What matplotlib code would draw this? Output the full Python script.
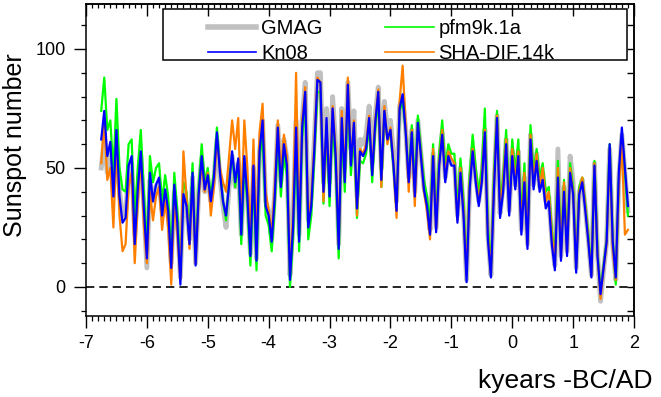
import numpy as np
import matplotlib
matplotlib.use("Agg")
import matplotlib.pyplot as plt
from matplotlib.patches import Rectangle
from matplotlib.ticker import MultipleLocator

plt.rcParams['font.family'] = ['Liberation Sans', 'DejaVu Sans']
plt.rcParams['axes.unicode_minus'] = False

# time axis, kyears BC/AD, one sample every 50 years
years = np.round(np.arange(-6.75, 1.90 + 0.001, 0.05), 2)

gmag = [
    50, 62, 48, 58, 40, 60, 40, 30, 30, 48,
    52, 22, 40, 55, 34, 8, 45, 36, 42, 44,
    32, 40, 32, 10, 40, 28, 4, 40, 34, 20,
    46, 10, 40, 54, 40, 46, 36, 45, 62, 46,
    34, 25, 42, 55, 42, 52, 22, 54, 38, 14,
    50, 12, 57, 70, 36, 32, 20, 40, 68, 44,
    62, 54, 5, 28, 70, 22, 70, 86, 28, 38,
    62, 90, 90, 44, 75, 44, 80, 60, 18, 75,
    50, 86, 58, 74, 38, 62, 60, 64, 76, 52,
    72, 84, 50, 78, 66, 70, 56, 36, 76, 80,
    66, 46, 66, 40, 70, 56, 42, 36, 24, 56,
    25, 52, 65, 46, 56, 52, 52, 30, 50, 32,
    3, 42, 58, 46, 36, 46, 66, 22, 5, 42,
    72, 31, 42, 62, 32, 57, 43, 57, 24, 46,
    18, 64, 43, 56, 42, 48, 36, 38, 20, 9,
    58, 13, 42, 15, 55, 44, 8, 40, 45, 33,
    20, 5, 52, 14, -6, 7, 19, 58, 18, 3,
    46, 64, 48, 32,
]

kn08 = [
    62, 74, 55, 61, 38, 66, 38, 27, 29, 51,
    55, 18, 41, 57, 33, 12, 48, 36, 43, 46,
    30, 41, 32, 8, 43, 27, 1, 39, 34, 18,
    48, 9, 39, 55, 41, 47, 36, 46, 65, 48,
    36, 30, 43, 57, 44, 54, 22, 55, 38, 13,
    51, 11, 57, 70, 34, 30, 19, 38, 67, 42,
    60, 51, 3, 25, 67, 19, 67, 82, 25, 34,
    58, 87, 86, 40, 71, 38, 75, 55, 16, 71,
    44, 85, 51, 69, 33, 57, 55, 58, 71, 47,
    69, 82, 45, 74, 62, 66, 51, 32, 75, 81,
    65, 44, 65, 38, 69, 55, 41, 34, 22, 55,
    23, 51, 64, 44, 55, 51, 51, 27, 48, 30,
    2, 41, 57, 44, 34, 44, 65, 20, 4, 41,
    71, 29, 40, 60, 30, 55, 41, 55, 22, 44,
    16, 62, 41, 53, 40, 45, 33, 36, 18, 7,
    46, 11, 40, 13, 48, 39, 6, 39, 44, 32,
    19, 4, 51, 13, -3, 8, 19, 60, 19, 4,
    48, 67, 50, 34,
]

pfm9k = [
    74, 88, 66, 70, 48, 79, 50, 41, 40, 60,
    62, 28, 50, 66, 40, 16, 55, 44, 50, 52,
    36, 47, 38, 12, 48, 32, 5, 44, 40, 22,
    52, 12, 42, 60, 44, 50, 38, 48, 67, 50,
    36, 28, 44, 56, 42, 52, 18, 52, 35, 9,
    47, 7, 54, 64, 30, 26, 15, 34, 62, 38,
    55, 47, 0, 20, 62, 15, 63, 78, 20, 30,
    54, 82, 82, 35, 66, 34, 70, 50, 12, 66,
    40, 80, 47, 64, 29, 53, 52, 56, 68, 44,
    66, 80, 42, 72, 62, 64, 50, 32, 74, 78,
    66, 46, 68, 42, 72, 58, 45, 38, 26, 60,
    28, 56, 70, 50, 60, 56, 56, 32, 54, 36,
    6, 47, 64, 50, 40, 50, 75, 26, 8, 48,
    74, 35, 46, 66, 36, 62, 48, 62, 28, 52,
    20, 68, 48, 58, 46, 52, 40, 42, 24, 12,
    53, 16, 45, 18, 52, 42, 10, 42, 46, 35,
    22, 6, 53, 15, -2, 9, 20, 60, 20, 1,
    45, 63, 48, 30,
]

shadif = [
    52, 70, 45, 50, 25, 60, 30, 15, 18, 42,
    48, 10, 35, 55, 26, 10, 40, 28, 38, 42,
    24, 36, 25, 1, 38, 22, 3, 57, 38, 16,
    46, 10, 38, 52, 40, 48, 30, 42, 62, 50,
    44, 40, 55, 70, 58, 71, 30, 70, 50, 20,
    62, 18, 65, 77, 40, 32, 22, 42, 70, 48,
    64, 55, 6, 30, 90, 25, 70, 84, 28, 38,
    60, 88, 86, 36, 68, 42, 76, 58, 18, 74,
    46, 88, 52, 70, 30, 58, 56, 60, 72, 48,
    70, 83, 42, 76, 60, 67, 52, 29, 78, 93,
    68, 40, 66, 34, 68, 56, 40, 32, 20, 58,
    24, 52, 66, 46, 57, 54, 52, 28, 50, 32,
    5, 43, 58, 46, 36, 46, 66, 22, 6, 44,
    72, 32, 44, 62, 32, 58, 44, 57, 25, 48,
    18, 64, 44, 56, 42, 50, 36, 40, 22, 10,
    50, 14, 44, 15, 50, 40, 8, 40, 46, 34,
    20, 5, 52, 14, -5, 8, 18, 58, 16, 3,
    42, 60, 22, 24,
]

fig = plt.figure(figsize=(6.61, 3.97), dpi=100)
ax = fig.add_axes([0.1301, 0.2040, 0.8291, 0.7859])

ax.plot(years, gmag, color="#c0c0c0", lw=3.5, label="GMAG", zorder=2)
ax.plot(years, kn08, color="#0000ff", lw=1.6, label="Kn08", zorder=5)
ax.plot(years, pfm9k, color="#00ff00", lw=1.6, label="pfm9k.1a", zorder=3)
ax.plot(years, shadif, color="#ff8000", lw=1.6, label="SHA-DIF.14k", zorder=4)
ax.axhline(0, color="black", lw=1.2, dashes=(5, 3), zorder=1)

ax.set_xlim(-7, 2)
ax.set_ylim(-12.2, 118.9)

ax.xaxis.set_major_locator(MultipleLocator(1))
ax.xaxis.set_minor_locator(MultipleLocator(0.1))
ax.yaxis.set_major_locator(MultipleLocator(50))
ax.yaxis.set_minor_locator(MultipleLocator(10))
ax.tick_params(which="major", direction="out", length=8.5, width=1.0,
               labelsize=13, top=False, right=False)
ax.tick_params(which="minor", direction="out", length=3.5, width=0.9,
               top=False, right=False)
ax.tick_params(axis="x", which="major", pad=5)
ax.tick_params(axis="y", which="major", pad=6)
for sp in ax.spines.values():
    sp.set_linewidth(1.1)

# inward ticks on the top and right frame
secx = ax.secondary_xaxis("top")
secx.xaxis.set_major_locator(MultipleLocator(1))
secx.xaxis.set_minor_locator(MultipleLocator(0.1))
secx.tick_params(which="major", direction="in", length=8.5, width=1.0, labeltop=False)
secx.tick_params(which="minor", direction="in", length=3.0, width=0.9)
secx.spines["top"].set_linewidth(1.1)

secy = ax.secondary_yaxis("right")
secy.yaxis.set_major_locator(MultipleLocator(10))
secy.tick_params(which="major", direction="in", length=5, width=1.0, labelright=False)
secy.spines["right"].set_linewidth(1.1)

ax.set_ylabel("Sunspot number", fontsize=18)
ax.yaxis.set_label_coords(-0.108, 0.548)
ax.set_xlabel("kyears -BC/AD", fontsize=19)
ax.xaxis.set_label_coords(0.874, -0.170)

# legend box
fig.patches.append(Rectangle((163 / 661, 1 - 60 / 397), 464 / 661, 51 / 397,
                             transform=fig.transFigure, fill=False,
                             edgecolor="black", lw=1.1, zorder=10))
leg = ax.legend(ncol=2, loc="upper left", bbox_to_anchor=(208 / 661, 1 - 19 / 397),
                bbox_transform=fig.transFigure, frameon=False, fontsize=14.5,
                handlelength=2.4, handletextpad=0.25, columnspacing=3.1,
                labelspacing=0.3, borderpad=0, borderaxespad=0)
leg.get_lines()[0].set_linewidth(4)
for ln in leg.get_lines()[1:]:
    ln.set_linewidth(1.2)

fig.savefig("out.png", dpi=100)
